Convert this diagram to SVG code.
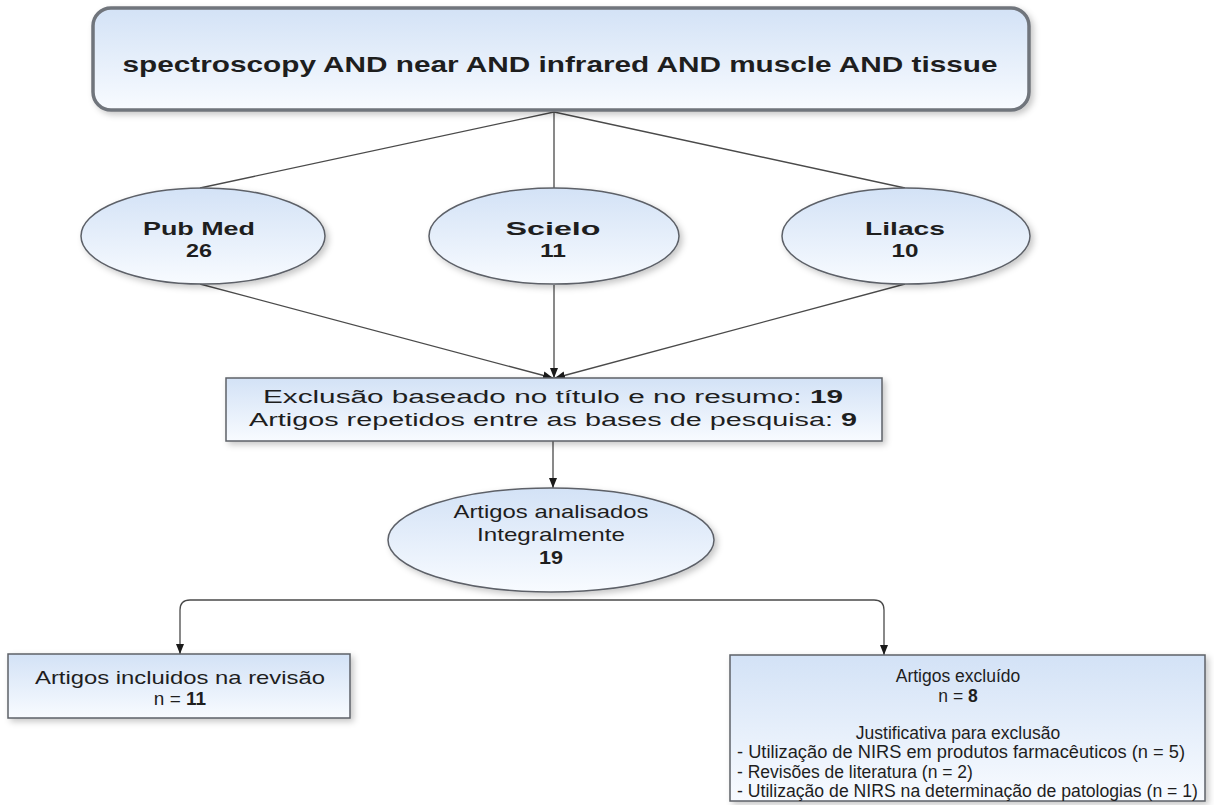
<svg xmlns="http://www.w3.org/2000/svg" width="1214" height="805" viewBox="0 0 1214 805">
<style>
.t{font-family:"Liberation Sans",Arial,sans-serif;fill:#1e1e1e;}
.b{font-weight:bold;}
.node{fill:url(#g);stroke:#5d6168;stroke-width:1.5;filter:url(#sh);}
.top{fill:url(#g);stroke:#70747b;stroke-width:3.5;filter:url(#sh);}
.c{fill:none;stroke:#4a4a4a;stroke-width:1.3;}
.ca{fill:none;stroke:#4a4a4a;stroke-width:1.3;marker-end:url(#ah);}
</style>
<defs>
<linearGradient id="g" x1="0" y1="0" x2="0" y2="1">
<stop offset="0" stop-color="#d3e2f6"/>
<stop offset="1" stop-color="#f8fbff"/>
</linearGradient>
<filter id="sh" x="-10%" y="-10%" width="130%" height="140%">
<feDropShadow dx="3" dy="3" stdDeviation="3" flood-color="#000" flood-opacity="0.22"/>
</filter>
<marker id="ah" viewBox="0 0 10 10" refX="10" refY="5" markerWidth="10" markerHeight="10" markerUnits="userSpaceOnUse" orient="auto">
<path d="M0,1 L10,5 L0,9 Z" fill="#1a1a1a"/>
</marker>
</defs>
<rect width="1214" height="805" fill="#fff"/>

<g id="connectors">
<path class="c" d="M554,112 L200,188"/>
<path class="c" d="M554,112 L554,188"/>
<path class="c" d="M554,112 L905,188"/>
<path class="ca" d="M200,284 L553,378"/>
<path class="ca" d="M554,285 L554,378"/>
<path class="ca" d="M905,284 L555,378"/>
<path class="ca" d="M553,441 L553,488"/>
<path class="ca" d="M551,600 H190 Q180,600 180,610 V654"/>
<path class="ca" d="M551,600 H874 Q884,600 884,610 V655"/>
</g>

<g id="query">
<rect class="top" x="93" y="8" width="936" height="102" rx="18"/>
<text class="t b" x="560" y="72" font-size="22" text-anchor="middle" textLength="875" lengthAdjust="spacingAndGlyphs">spectroscopy AND near AND infrared AND muscle AND tissue</text>
</g>

<g id="pubmed">
<ellipse class="node" cx="203" cy="236" rx="122" ry="48"/>
<text class="t b" x="199" y="235" font-size="19" text-anchor="middle" textLength="112" lengthAdjust="spacingAndGlyphs">Pub Med</text>
<text class="t b" x="199" y="257" font-size="19" text-anchor="middle" textLength="26" lengthAdjust="spacingAndGlyphs">26</text>
</g>

<g id="scielo">
<ellipse class="node" cx="554" cy="236" rx="125" ry="48"/>
<text class="t b" x="553" y="235" font-size="19" text-anchor="middle" textLength="95" lengthAdjust="spacingAndGlyphs">Scielo</text>
<text class="t b" x="553" y="257" font-size="19" text-anchor="middle" textLength="26" lengthAdjust="spacingAndGlyphs">11</text>
</g>

<g id="lilacs">
<ellipse class="node" cx="906" cy="236" rx="124" ry="48"/>
<text class="t b" x="905" y="235" font-size="19" text-anchor="middle" textLength="80" lengthAdjust="spacingAndGlyphs">Lilacs</text>
<text class="t b" x="905" y="257" font-size="19" text-anchor="middle" textLength="27" lengthAdjust="spacingAndGlyphs">10</text>
</g>

<g id="exclusion">
<rect class="node" x="226" y="378" width="656" height="63"/>
<text class="t" x="553" y="403" font-size="18" text-anchor="middle" textLength="580" lengthAdjust="spacingAndGlyphs">Exclusão baseado no título e no resumo: <tspan class="b">19</tspan></text>
<text class="t" x="553" y="426" font-size="18" text-anchor="middle" textLength="608" lengthAdjust="spacingAndGlyphs">Artigos repetidos entre as bases de pesquisa: <tspan class="b">9</tspan></text>
</g>

<g id="analisados">
<ellipse class="node" cx="551" cy="540" rx="163" ry="52"/>
<text class="t" x="551" y="518" font-size="19" text-anchor="middle" textLength="195" lengthAdjust="spacingAndGlyphs">Artigos analisados</text>
<text class="t" x="551" y="541" font-size="19" text-anchor="middle" textLength="148" lengthAdjust="spacingAndGlyphs">Integralmente</text>
<text class="t b" x="551" y="564" font-size="19" text-anchor="middle" textLength="24" lengthAdjust="spacingAndGlyphs">19</text>
</g>

<g id="incluidos">
<rect class="node" x="8" y="654" width="342" height="64"/>
<text class="t" x="180" y="684" font-size="19" text-anchor="middle" textLength="290" lengthAdjust="spacingAndGlyphs">Artigos incluidos na revisão</text>
<text class="t" x="180" y="705" font-size="19" text-anchor="middle">n = <tspan class="b">11</tspan></text>
</g>

<g id="excluidos">
<rect class="node" x="730" y="655" width="475" height="146"/>
<text class="t" x="958" y="682" font-size="17.5" text-anchor="middle">Artigos excluído</text>
<text class="t" x="958" y="702" font-size="17.5" text-anchor="middle">n = <tspan class="b">8</tspan></text>
<text class="t" x="958" y="739" font-size="17.5" text-anchor="middle">Justificativa para exclusão</text>
<text class="t" x="737" y="758" font-size="17.5" textLength="448" lengthAdjust="spacingAndGlyphs">- Utilização de NIRS em produtos farmacêuticos (n = 5)</text>
<text class="t" x="737" y="778" font-size="17.5">- Revisões de literatura (n = 2)</text>
<text class="t" x="737" y="797" font-size="17.5" textLength="461" lengthAdjust="spacingAndGlyphs">- Utilização de NIRS na determinação de patologias (n = 1)</text>
</g>
</svg>
